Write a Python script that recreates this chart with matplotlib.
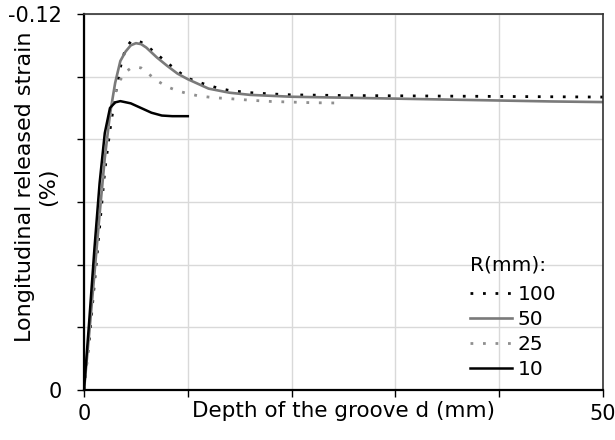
import numpy as np
import matplotlib
matplotlib.use("Agg")
import matplotlib.pyplot as plt

# depth of the groove d (mm) and released strain (%) for each radius R (mm)
d_100 = [0, 0.5, 1, 1.5, 2, 2.5, 3, 3.5, 4, 4.5, 5, 5.5, 6, 7, 8, 9, 10, 11, 12, 13, 14, 16, 18, 20, 25, 30, 35, 40, 45, 50]
s_100 = [0, -0.016, -0.034, -0.052, -0.070, -0.083, -0.094, -0.103, -0.109, -0.1112, -0.1116, -0.111, -0.110, -0.1072, -0.1045, -0.1018,
         -0.0995, -0.0983, -0.0972, -0.0963, -0.0956, -0.0949, -0.0945, -0.0942, -0.0940, -0.0939, -0.0938, -0.0937, -0.0936, -0.0935]

d_50 = [0, 0.5, 1, 1.5, 2, 2.5, 3, 3.5, 4, 4.5, 5, 5.5, 6, 7, 8, 9, 10, 12, 14, 16, 18, 20, 25, 30, 35, 40, 45, 50]
s_50 = [0, -0.018, -0.037, -0.056, -0.074, -0.088, -0.098, -0.105, -0.108, -0.110, -0.1107, -0.1104, -0.1093, -0.1062, -0.1035, -0.101,
        -0.0992, -0.0962, -0.0949, -0.0942, -0.0939, -0.0936, -0.0933, -0.0930, -0.0927, -0.0924, -0.0921, -0.0919]

d_25 = [0, 0.5, 1, 1.5, 2, 2.5, 3, 3.5, 4, 4.5, 5, 5.5, 6, 7, 8, 9, 10, 11, 12, 13, 14, 16, 18, 20, 22, 24.5]
s_25 = [0, -0.018, -0.037, -0.056, -0.074, -0.087, -0.095, -0.099, -0.1015, -0.1027, -0.1031, -0.1028, -0.1015, -0.0988, -0.0968, -0.0955,
        -0.0946, -0.0939, -0.0935, -0.0932, -0.0930, -0.0925, -0.0921, -0.0919, -0.0917, -0.0916]

d_10 = [0, 0.5, 1, 1.5, 2, 2.5, 3, 3.5, 4.5, 5.5, 6.5, 7.5, 8.5, 10]
s_10 = [0, -0.022, -0.045, -0.066, -0.082, -0.0900, -0.0918, -0.0922, -0.0915, -0.0900, -0.0885, -0.0876, -0.0874, -0.0874]

labels = ['100', '50', '25', '10']

fig = plt.figure(figsize=(6.15, 4.4), dpi=100)
ax = fig.add_axes([0.1366, 0.1136, 0.8439, 0.8545])

ax.plot(d_100, s_100, color='black', lw=2.0, linestyle=(0, (1, 3.5)), label=labels[0])
ax.plot(d_50, s_50, color='#7a7a7a', lw=1.9, label=labels[1])
ax.plot(d_25, s_25, color='#8f8f8f', lw=2.0, linestyle=(0, (1, 3.5)), label=labels[2])
ax.plot(d_10, s_10, color='black', lw=1.8, label=labels[3])

ax.set_xlim(0, 50)
ax.set_ylim(0, -0.12)

xt = np.arange(0, 51, 10)
ax.set_xticks(xt)
ax.set_xticklabels(['0', '', '', '', '', '50'])
yt = np.linspace(0, -0.12, 7)
ax.set_yticks(yt)
ax.set_yticklabels(['0', '', '', '', '', '', '-0.12'])
ax.tick_params(labelsize=15, length=5, width=1, direction='out')
ax.tick_params(axis='x', pad=5)
ax.tick_params(axis='y', pad=11)

ax.grid(True, color='#d9d9d9', lw=1)
ax.set_axisbelow(True)
for side in ['left', 'bottom']:
    ax.spines[side].set_linewidth(1.6)
for side in ['top', 'right']:
    ax.spines[side].set_linewidth(1.2)
    ax.spines[side].set_color('#333333')

ax.set_xlabel('Depth of the groove d (mm)', fontsize=15.5)
ax.xaxis.set_label_coords(0.5, -0.03, transform=ax.transAxes)
ax.xaxis.label.set_va('top')
ax.set_ylabel('Longitudinal released strain\n(%)', fontsize=16, linespacing=1.2)
ax.yaxis.set_label_coords(-0.05, 0.54)

leg = ax.legend(title='R(mm):', loc='lower left', bbox_to_anchor=(0.744, 0.028),
                frameon=False, fontsize=14.5, title_fontsize=14.5, handlelength=2.1,
                handletextpad=0.25, labelspacing=0.3, borderaxespad=0, borderpad=0)
leg._legend_box.align = 'left'
leg._legend_box.sep = 8

fig.savefig('out.png', dpi=100)
